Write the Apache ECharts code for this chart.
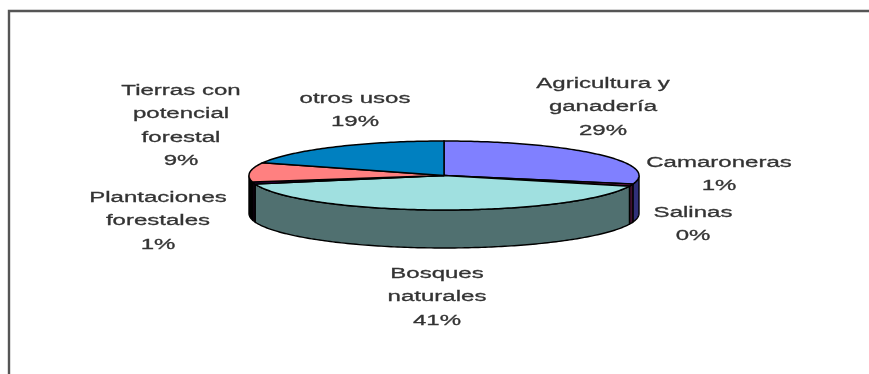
<!DOCTYPE html>
<html>
<head>
<meta charset="utf-8">
<style>
  html, body { margin: 0; padding: 0; background: #fff; }
  #chart { width: 869px; height: 374px; }
</style>
<script src="https://cdn.jsdelivr.net/npm/echarts@6/dist/echarts.min.js"></script>
</head>
<body>
<div id="chart"></div>
<script>
// Land use shares, clockwise from twelve o'clock
const categories = [
  ['Agricultura y', 'ganadería'],
  ['Camaroneras'],
  ['Salinas'],
  ['Bosques', 'naturales'],
  ['Plantaciones', 'forestales'],
  ['Tierras con', 'potencial', 'forestal'],
  ['otros usos']
];
const shares = [29, 1, 0, 41, 1, 9, 19];

const topColors = ['#8080ff', '#802060', '#ffffc0', '#a0e0e0', '#600080', '#ff8080', '#0080c0'];
const sideColors = ['#303078', '#401030', '#808060', '#507070', '#100010', '#000000', '#004060'];

// Centre of each label block and the y of its first line
const labelCentres = [603, 719, 693, 437, 158, 181, 355];
const labelTops = [83.5, 162.5, 212.5, 273.5, 197.5, 90.5, 98.5];

// Disc geometry
const CX = 444, CY = 175.5, RX = 195, RY = 34.5, DEPTH = 38;
const LINE_STEP = 23.4;
const TEXT_SCALE = 1.55;
const STROKE = '#000';

const total = shares.reduce((a, b) => a + b, 0);

function sliceRange(index) {
  let before = 0;
  for (let i = 0; i < index; i++) before += shares[i];
  return [before / total * 360, (before + shares[index]) / total * 360];
}

// Point on the disc rim; angle runs clockwise from the top
function rim(deg, drop) {
  const a = deg * Math.PI / 180;
  return [CX + RX * Math.sin(a), CY - RY * Math.cos(a) + drop];
}

function arc(from, to, drop) {
  const pts = [];
  const n = Math.max(1, Math.ceil(Math.abs(to - from)));
  for (let i = 0; i <= n; i++) pts.push(rim(from + (to - from) * i / n, drop));
  return pts;
}

function renderSide(params, api) {
  const [start, end] = sliceRange(params.dataIndex);
  const from = Math.max(start, 90), to = Math.min(end, 270);
  if (api.value(1) === 0 || to <= from) return { type: 'group', children: [] };
  return {
    type: 'polygon',
    shape: { points: arc(from, to, 0).concat(arc(to, from, DEPTH)) },
    style: { fill: sideColors[params.dataIndex], stroke: STROKE, lineWidth: 1.4 }
  };
}

function renderTop(params, api) {
  const [start, end] = sliceRange(params.dataIndex);
  if (api.value(1) === 0) return { type: 'group', children: [] };
  return {
    type: 'polygon',
    shape: { points: [[CX, CY]].concat(arc(start, end, 0)) },
    style: { fill: topColors[params.dataIndex], stroke: STROKE, lineWidth: 1.5 }
  };
}

function renderLabel(params, api) {
  const i = params.dataIndex;
  const lines = categories[i].concat([api.value(1) + '%']);
  return {
    type: 'group',
    children: lines.map((line, k) => ({
      type: 'text',
      x: labelCentres[i],
      y: labelTops[i] + k * LINE_STEP,
      scaleX: TEXT_SCALE,
      style: {
        text: line,
        fill: '#333',
        stroke: '#333',
        lineWidth: 0.3,
        font: '15.5px "Liberation Sans", Arial, sans-serif',
        textAlign: 'center',
        textVerticalAlign: 'middle'
      }
    }))
  };
}

const rows = shares.map((v, i) => [i, v]);
const chart = echarts.init(document.getElementById('chart'), null, { renderer: 'canvas' });
chart.setOption({
  animation: false,
  backgroundColor: '#fff',
  graphic: [{
    type: 'polyline',
    shape: { points: [[9, 374], [9, 11], [869, 11]] },
    style: { stroke: '#555', lineWidth: 2.4, fill: null }
  }],
  series: [
    { type: 'custom', coordinateSystem: 'none', data: rows, renderItem: renderSide, z: 1, silent: true },
    { type: 'custom', coordinateSystem: 'none', data: rows, renderItem: renderTop, z: 2, silent: true },
    { type: 'custom', coordinateSystem: 'none', data: rows, renderItem: renderLabel, z: 3, silent: true }
  ]
});
</script>
</body>
</html>
